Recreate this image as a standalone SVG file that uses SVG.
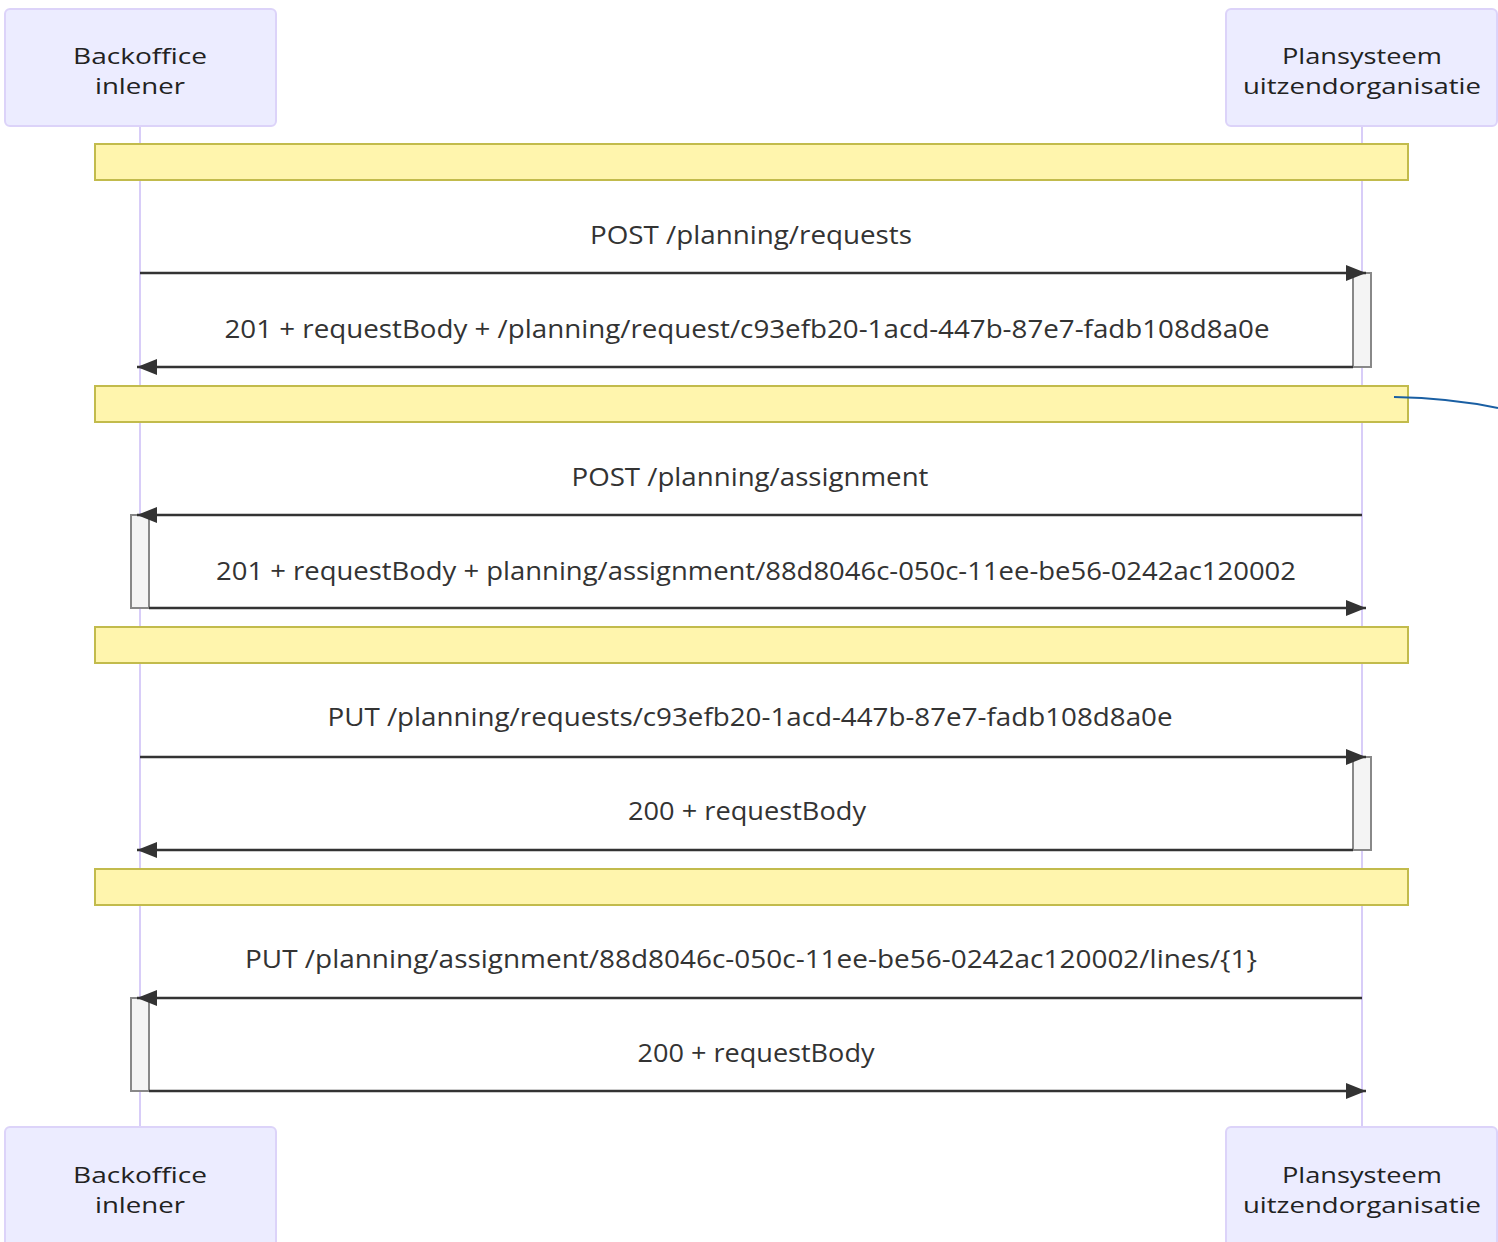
<svg xmlns="http://www.w3.org/2000/svg" width="1498" height="1242" viewBox="0 0 1498 1242">
<style>
.actor{fill:#ECECFF;stroke:#dcd3f9;stroke-width:2}
.atext{font-family:"Open Sans","DejaVu Sans",sans-serif;font-size:22px;fill:#222;text-anchor:middle;dominant-baseline:central}
.life{stroke:#d8cdf8;stroke-width:2}
.note{fill:#fff5ad;stroke:#c2bb4c;stroke-width:2}
.msg{stroke:#333;stroke-width:2.5;fill:none}
.mtext{font-family:"Open Sans","DejaVu Sans",sans-serif;font-size:25px;fill:#333;text-anchor:middle;dominant-baseline:central}
.act{fill:#f4f4f4;stroke:#888;stroke-width:2}
</style>
<defs>
<marker id="arrow" viewBox="0 0 20 16" refX="20" refY="8" markerWidth="20" markerHeight="16" markerUnits="userSpaceOnUse" orient="auto">
<path d="M0,0 L20,8 L0,16 z" fill="#333"/>
</marker>
</defs>
<rect width="1498" height="1242" fill="#ffffff"/>
<g id="lifelines">
<line class="life" x1="140" y1="126" x2="140" y2="1127"/>
<line class="life" x1="1362" y1="126" x2="1362" y2="1127"/>
</g>
<g id="actor-backoffice-top">
<rect class="actor" x="5" y="9" width="271" height="117" rx="5"/>
<text class="atext" x="140" y="55" textLength="134" lengthAdjust="spacingAndGlyphs">Backoffice</text>
<text class="atext" x="140" y="85" textLength="90" lengthAdjust="spacingAndGlyphs">inlener</text>
</g>
<g id="actor-plansysteem-top">
<rect class="actor" x="1226" y="9" width="271" height="117" rx="5"/>
<text class="atext" x="1362" y="55" textLength="160" lengthAdjust="spacingAndGlyphs">Plansysteem</text>
<text class="atext" x="1362" y="85" textLength="238" lengthAdjust="spacingAndGlyphs">uitzendorganisatie</text>
</g>
<g id="actor-backoffice-bottom">
<rect class="actor" x="5" y="1127" width="271" height="130" rx="5"/>
<text class="atext" x="140" y="1174" textLength="134" lengthAdjust="spacingAndGlyphs">Backoffice</text>
<text class="atext" x="140" y="1204" textLength="90" lengthAdjust="spacingAndGlyphs">inlener</text>
</g>
<g id="actor-plansysteem-bottom">
<rect class="actor" x="1226" y="1127" width="271" height="130" rx="5"/>
<text class="atext" x="1362" y="1174" textLength="160" lengthAdjust="spacingAndGlyphs">Plansysteem</text>
<text class="atext" x="1362" y="1204" textLength="238" lengthAdjust="spacingAndGlyphs">uitzendorganisatie</text>
</g>
<g id="notes">
<rect class="note" x="95" y="144" width="1313" height="36"/>
<rect class="note" x="95" y="386" width="1313" height="36"/>
<rect class="note" x="95" y="627" width="1313" height="36"/>
<rect class="note" x="95" y="869" width="1313" height="36"/>
</g>
<g id="activations">
<rect class="act" x="1353" y="273" width="18" height="94"/>
<rect class="act" x="131" y="515" width="18" height="93"/>
<rect class="act" x="1353" y="757" width="18" height="93"/>
<rect class="act" x="131" y="998" width="18" height="93"/>
</g>
<g id="connectors">
<line class="msg" x1="140" y1="273" x2="1366" y2="273" marker-end="url(#arrow)"/>
<line class="msg" x1="1353" y1="367" x2="137" y2="367" marker-end="url(#arrow)"/>
<line class="msg" x1="1362" y1="515" x2="137" y2="515" marker-end="url(#arrow)"/>
<line class="msg" x1="149" y1="608" x2="1366" y2="608" marker-end="url(#arrow)"/>
<line class="msg" x1="140" y1="757" x2="1366" y2="757" marker-end="url(#arrow)"/>
<line class="msg" x1="1353" y1="850" x2="137" y2="850" marker-end="url(#arrow)"/>
<line class="msg" x1="1362" y1="998" x2="137" y2="998" marker-end="url(#arrow)"/>
<line class="msg" x1="149" y1="1091" x2="1366" y2="1091" marker-end="url(#arrow)"/>
<path d="M1394,397 Q1450,398 1498,408" fill="none" stroke="#1a5fa3" stroke-width="2"/>
</g>
<g id="labels">
<text class="mtext" x="751" y="234" textLength="322" lengthAdjust="spacingAndGlyphs">POST /planning/requests</text>
<text class="mtext" x="747" y="328" textLength="1045" lengthAdjust="spacingAndGlyphs">201 + requestBody + /planning/request/c93efb20-1acd-447b-87e7-fadb108d8a0e</text>
<text class="mtext" x="750" y="476" textLength="357" lengthAdjust="spacingAndGlyphs">POST /planning/assignment</text>
<text class="mtext" x="756" y="570" textLength="1080" lengthAdjust="spacingAndGlyphs">201 + requestBody + planning/assignment/88d8046c-050c-11ee-be56-0242ac120002</text>
<text class="mtext" x="750" y="716" textLength="845" lengthAdjust="spacingAndGlyphs">PUT /planning/requests/c93efb20-1acd-447b-87e7-fadb108d8a0e</text>
<text class="mtext" x="747" y="810" textLength="238" lengthAdjust="spacingAndGlyphs">200 + requestBody</text>
<text class="mtext" x="751" y="958" textLength="1012" lengthAdjust="spacingAndGlyphs">PUT /planning/assignment/88d8046c-050c-11ee-be56-0242ac120002/lines/{1}</text>
<text class="mtext" x="756" y="1052" textLength="237" lengthAdjust="spacingAndGlyphs">200 + requestBody</text>
</g>
</svg>
